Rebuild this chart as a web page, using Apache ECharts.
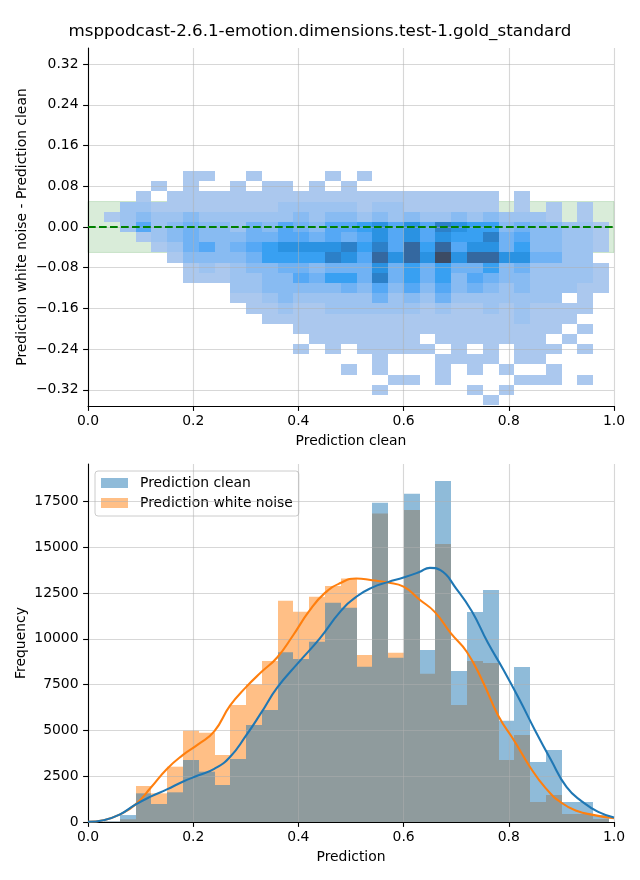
<!DOCTYPE html>
<html><head><meta charset="utf-8">
<script src="https://cdn.jsdelivr.net/npm/echarts@6/dist/echarts.min.js"></script>
<style>html,body{margin:0;padding:0;background:#fff}#c{width:640px;height:880px}</style>
</head><body><div id="c"></div>
<script>
const titleText = 'msppodcast-2.6.1-emotion.dimensions.test-1.gold_standard';
const FONT = 'DejaVu Sans';

// shared x bins (clean prediction)
const binStart = 0.0305, binWidth = 0.03;
// y bins of the 2D histogram (difference), top edge of first row
const heatYTop = 0.11, heatYStep = 0.02;

// relative density levels of the 2D histogram, one row per y bin (top -> bottom), 32 x bins each
const heatCounts = [
[0,0,0,0,0,1,1,0,0,1,0,0,0,0,1,0,1,0,0,0,0,0,0,0,0,0,0,0,0,0,0,0],
[0,0,0,1,0,1,0,0,1,0,1,1,0,1,0,1,0,0,0,0,0,0,0,0,0,0,0,0,0,0,0,0],
[0,0,1,0,1,1,1,1,1,1,1,1,1,1,1,1,1,1,1,1,1,1,1,1,1,0,1,0,0,0,0,0],
[0,2,2,1,1,1,1,1,1,1,1,2,2,2,2,2,1,2,2,1,1,1,1,1,1,0,1,0,1,0,1,0],
[1,2,3,2,2,3,2,2,2,2,2,2,3,2,3,3,2,3,2,3,2,2,3,2,3,2,2,2,1,0,1,0],
[0,2,5,2,3,4,3,3,2,4,3,5,4,3,5,5,6,7,5,7,5,8,7,6,6,3,4,3,3,2,2,1],
[0,0,1,2,3,4,3,3,3,4,4,5,5,4,5,4,5,7,5,7,5,7,6,6,8,4,5,3,3,2,2,1],
[0,0,0,1,2,4,5,3,4,5,6,7,7,7,7,8,6,8,5,9,6,9,5,7,7,4,6,3,3,2,2,1],
[0,0,0,0,1,3,3,3,3,4,6,6,6,6,8,7,5,9,7,9,7,10,7,9,9,7,7,4,4,2,2,0],
[0,0,0,0,0,1,2,1,2,3,3,4,4,3,4,4,4,7,4,6,4,6,4,4,6,3,4,2,2,2,2,1],
[0,0,0,0,0,1,1,1,2,2,3,3,5,4,6,6,4,8,4,6,4,6,3,5,4,3,3,2,2,2,2,1],
[0,0,0,0,0,0,0,0,2,2,3,3,3,3,3,4,3,5,3,5,3,5,3,4,3,2,3,2,2,2,1,1],
[0,0,0,0,0,0,0,0,1,1,2,3,2,2,2,2,2,4,2,3,2,4,2,2,2,2,2,2,2,0,1,0],
[0,0,0,0,0,0,0,0,0,1,1,2,1,1,2,2,2,2,2,2,1,2,1,1,2,1,2,1,1,1,1,0],
[0,0,0,0,0,0,0,0,0,0,1,1,1,1,1,1,1,1,1,1,1,1,1,1,1,1,2,1,1,1,0,0],
[0,0,0,0,0,0,0,0,0,0,0,0,1,1,1,1,1,1,1,1,1,1,1,1,1,1,1,1,1,0,1,0],
[0,0,0,0,0,0,0,0,0,0,0,0,0,1,1,1,1,1,1,1,0,1,1,1,1,1,1,1,0,1,0,0],
[0,0,0,0,0,0,0,0,0,0,0,0,1,0,1,0,1,1,1,1,1,0,1,0,1,0,1,1,1,0,1,0],
[0,0,0,0,0,0,0,0,0,0,0,0,0,0,0,0,0,1,0,0,0,1,1,1,1,0,1,1,0,0,0,0],
[0,0,0,0,0,0,0,0,0,0,0,0,0,0,0,1,0,1,0,0,0,1,0,1,0,1,0,0,1,0,0,0],
[0,0,0,0,0,0,0,0,0,0,0,0,0,0,0,0,0,0,1,1,0,1,0,0,0,0,1,1,1,0,1,0],
[0,0,0,0,0,0,0,0,0,0,0,0,0,0,0,0,0,1,0,0,0,0,0,1,0,1,0,0,0,0,0,0],
[0,0,0,0,0,0,0,0,0,0,0,0,0,0,0,0,0,0,0,0,0,0,0,0,1,0,0,0,0,0,0,0]
];
const heatPalette = ['#abc8ee','#9dc3f0','#88bbf2','#70b2f4','#55a8f5','#38a0f2','#2a92e2','#2c80c8','#3468a0','#3c4b64'];

// 1D histograms (same 32 bins)
const histClean = [40,380,1565,983,1620,3385,2748,2020,3440,5296,6115,9264,8900,9846,11975,11700,8481,17436,8973,17927,9391,18619,8245,11466,12667,5533,8463,3276,3931,1092,1092,382];
const histNoise = [20,150,1966,1565,3021,4987,4878,3658,6388,7517,8791,12085,11484,12303,12886,13304,9118,16853,9246,17035,8099,15179,6388,8791,8681,3385,4750,1092,1474,437,437,164];

// KDE curves (scaled to counts)
const kdeCleanX = [0,0.03,0.06,0.09,0.12,0.15,0.18,0.21,0.24,0.27,0.30,0.33,0.36,0.40,0.44,0.48,0.51,0.54,0.57,0.60,0.63,0.65,0.67,0.70,0.73,0.76,0.79,0.82,0.85,0.88,0.91,0.94,0.97,1.0];
const kdeCleanY = [10,100,400,950,1400,1780,2200,2550,2900,3550,4700,6000,7350,8700,10000,11500,12300,12800,13100,13350,13650,13880,13750,12750,11500,9800,8300,6700,5000,3400,1900,1100,550,250];
const kdeNoiseX = [0,0.03,0.06,0.09,0.12,0.15,0.18,0.21,0.24,0.27,0.30,0.33,0.36,0.39,0.42,0.45,0.48,0.51,0.54,0.57,0.60,0.63,0.66,0.69,0.72,0.75,0.78,0.81,0.84,0.87,0.90,0.93,0.96,1.0];
const kdeNoiseY = [10,100,400,950,1900,2900,3650,4250,4950,6350,7350,8200,9000,10200,11500,12500,13050,13300,13200,13080,12850,12150,11450,10300,9300,7700,5800,4450,3020,1850,1050,600,390,200];

const xTicks = [0,0.2,0.4,0.6,0.8,1.0];
const diffTicks = [-0.32,-0.24,-0.16,-0.08,0,0.08,0.16,0.24,0.32];
const freqTicks = [0,2500,5000,7500,10000,12500,15000,17500];
const diffRange = [-0.3517, 0.3517];
const freqRange = [0, 19551];
const bandRange = [-0.05, 0.05];
const refLineY = 0;

// build data
const heatData = [];
heatCounts.forEach((row, j) => {
  const yHi = heatYTop - j * heatYStep, yLo = yHi - heatYStep;
  row.forEach((c, i) => {
    if (c > 0) heatData.push([binStart + i * binWidth, binStart + (i + 1) * binWidth, yLo, yHi, c]);
  });
});
const histData = arr => arr.map((c, i) => [binStart + i * binWidth, binStart + (i + 1) * binWidth, c]);

function renderCell(params, api) {
  const cs = params.coordSys;
  const a = api.coord([api.value(0), api.value(3)]);
  const b = api.coord([api.value(1), api.value(2)]);
  const x0 = Math.round(a[0]), x1 = Math.round(b[0]);
  const y0 = Math.max(Math.round(a[1]), cs.y), y1 = Math.min(Math.round(b[1]), cs.y + cs.height);
  if (y1 <= y0) return null;
  return { type: 'rect', shape: { x: x0, y: y0, width: x1 - x0, height: y1 - y0 }, style: { fill: api.visual('color') } };
}
function renderBand(params, api) {
  const cs = params.coordSys;
  const t = api.coord([0, api.value(1)])[1];
  const b = api.coord([0, api.value(0)])[1];
  return { type: 'rect', shape: { x: cs.x, y: t, width: cs.width, height: b - t },
    style: { fill: 'rgba(0,128,0,0.15)', stroke: 'rgba(0,128,0,0.15)', lineWidth: 1 } };
}
function barRenderer(color) {
  return function (params, api) {
    const a = api.coord([api.value(0), api.value(2)]);
    const b = api.coord([api.value(1), 0]);
    const x0 = Math.round(a[0]), x1 = Math.round(b[0]);
    return { type: 'rect', shape: { x: x0, y: a[1], width: x1 - x0, height: b[1] - a[1] }, style: { fill: color } };
  };
}

const nameStyle = { color: '#000', fontSize: 13.9, fontFamily: FONT };
function axisBase(extra) {
  return Object.assign({
    type: 'value', z: 5,
    axisLine: { show: true, onZero: false, lineStyle: { color: '#000', width: 1.1 } },
    axisTick: { show: true, length: 4.9, lineStyle: { color: '#000', width: 1.1 } },
    axisLabel: { color: '#000', fontSize: 13.9, fontFamily: FONT, margin: 8 },
    splitLine: { show: true, lineStyle: { color: 'rgba(176,176,176,0.5)', width: 1.1 } },
    nameLocation: 'middle', nameTextStyle: nameStyle, nameMoveOverlap: false
  }, extra);
}
const fmtX = v => v.toFixed(1);
const fmtDiff = v => (v < -1e-9 ? '\u2212' : '') + Math.abs(v).toFixed(2);

const CLEAN = 'Prediction clean', NOISE = 'Prediction white noise';
const chart = echarts.init(document.getElementById('c'), null, { renderer: 'canvas' });
chart.setOption({
  animation: false,
  backgroundColor: '#fff',
  title: { text: titleText, left: 'center', top: 18, textStyle: { fontSize: 16.7, fontWeight: 'normal', color: '#000', fontFamily: FONT } },
  grid: [
    { left: 88, top: 48, width: 526, height: 358 },
    { left: 88, top: 464, width: 526, height: 358 }
  ],
  xAxis: [
    axisBase({ gridIndex: 0, min: 0, max: 1, interval: 0.2, name: 'Prediction clean', nameGap: 28, axisLabel: { color: '#000', fontSize: 13.9, fontFamily: FONT, margin: 8, formatter: fmtX } }),
    axisBase({ gridIndex: 1, min: 0, max: 1, interval: 0.2, name: 'Prediction', nameGap: 28, axisLabel: { color: '#000', fontSize: 13.9, fontFamily: FONT, margin: 8, formatter: fmtX } })
  ],
  yAxis: [
    axisBase({ gridIndex: 0, min: diffRange[0], max: diffRange[1], name: 'Prediction white noise - Prediction clean', nameGap: 59,
      axisTick: { show: true, length: 4.9, customValues: diffTicks, lineStyle: { color: '#000', width: 1.1 } },
      axisLabel: { color: '#000', fontSize: 13.9, fontFamily: FONT, margin: 9.5, customValues: diffTicks, formatter: fmtDiff } }),
    axisBase({ gridIndex: 1, min: freqRange[0], max: freqRange[1], name: 'Frequency', nameGap: 60,
      axisTick: { show: true, length: 4.9, customValues: freqTicks, lineStyle: { color: '#000', width: 1.1 } },
      axisLabel: { color: '#000', fontSize: 13.9, fontFamily: FONT, margin: 9.5, customValues: freqTicks, formatter: v => String(Math.round(v)) } })
  ],
  visualMap: { type: 'continuous', show: false, seriesIndex: 1, dimension: 4, min: 1, max: 10, inRange: { color: heatPalette } },
  legend: {
    data: [CLEAN, NOISE], orient: 'vertical', left: 95, top: 471, icon: 'rect',
    itemWidth: 27, itemHeight: 10, itemGap: 6,
    textStyle: { fontSize: 13.9, color: '#000', fontFamily: FONT, padding: [0, 0, 0, 7] },
    backgroundColor: 'rgba(255,255,255,0.8)', borderColor: '#cccccc', borderWidth: 1, borderRadius: 3,
    padding: [5, 6, 6, 6]
  },
  series: [
    { type: 'custom', name: 'band', xAxisIndex: 0, yAxisIndex: 0, z: 1, silent: true, renderItem: renderBand, data: [bandRange] },
    { type: 'custom', name: 'heat', xAxisIndex: 0, yAxisIndex: 0, z: 2, renderItem: renderCell,
      dimensions: ['x0', 'x1', 'y0', 'y1', 'count'], encode: { x: [0, 1], y: [2, 3] }, data: heatData },
    { type: 'line', name: 'ref', xAxisIndex: 0, yAxisIndex: 0, z: 10, symbol: 'none',
      lineStyle: { color: '#008000', width: 2.08, type: [7.7, 3.3] },
      data: [[0, refLineY], [1, refLineY]] },
    { type: 'custom', name: NOISE, xAxisIndex: 1, yAxisIndex: 1, z: 2, itemStyle: { color: 'rgba(255,127,14,0.5)' },
      renderItem: barRenderer('rgba(255,127,14,0.5)'), encode: { x: [0, 1], y: 2 }, data: histData(histNoise) },
    { type: 'custom', name: CLEAN, xAxisIndex: 1, yAxisIndex: 1, z: 3, itemStyle: { color: 'rgba(31,119,180,0.5)' },
      renderItem: barRenderer('rgba(31,119,180,0.5)'), encode: { x: [0, 1], y: 2 }, data: histData(histClean) },
    { type: 'line', name: 'kdeNoise', xAxisIndex: 1, yAxisIndex: 1, z: 10, symbol: 'none', smooth: 0.5,
      lineStyle: { color: '#ff7f0e', width: 2.08 }, data: kdeNoiseX.map((x, i) => [x, kdeNoiseY[i]]) },
    { type: 'line', name: 'kdeClean', xAxisIndex: 1, yAxisIndex: 1, z: 11, symbol: 'none', smooth: 0.5,
      lineStyle: { color: '#1f77b4', width: 2.08 }, data: kdeCleanX.map((x, i) => [x, kdeCleanY[i]]) }
  ]
});
</script>
</body></html>
